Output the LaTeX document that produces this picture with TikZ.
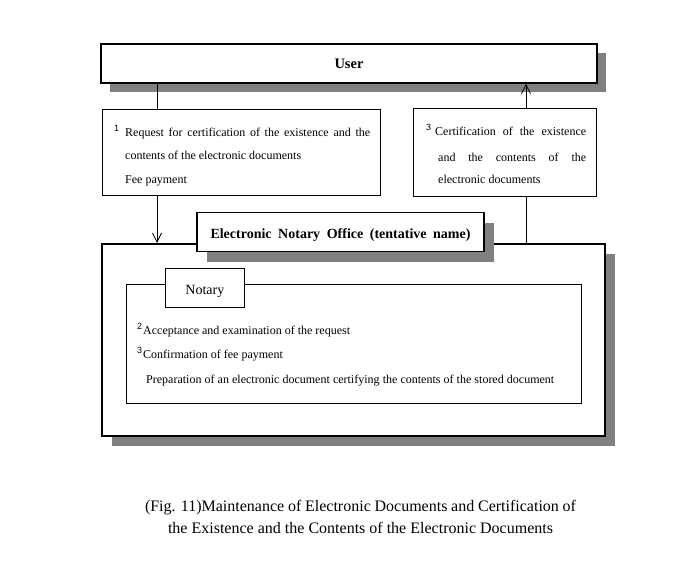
\documentclass[tikz,border=0pt]{standalone}
\usepackage{fontspec}
\setmainfont{Liberation Serif}
\setsansfont{Liberation Sans}
\usetikzlibrary{arrows.meta,shadows}
\definecolor{shade}{HTML}{808080}
\begin{document}
\begin{tikzpicture}[x=1pt,y=-1pt,
  thickbox/.style={draw, line width=1.6pt, fill=white, inner sep=0pt,
    general shadow={fill=shade, shadow xshift=#1, shadow yshift=-#1}},
  thickbox/.default=9pt,
  thinbox/.style={draw, line width=0.8pt, fill=white, inner sep=0pt},
  conn/.style={line width=0.8pt},
  arr/.style={conn, -{Straight Barb[length=9pt,width=9pt,line width=0.8pt]}},
  txt/.style={font=\fontsize{12}{14}\selectfont, inner sep=0pt, anchor=base west},
  num/.style={font=\sffamily\fontsize{9}{10}\selectfont, inner sep=0pt, anchor=base west},
  captxt/.style={font=\fontsize{16}{18}\selectfont, inner sep=0pt, anchor=base}
]
\useasboundingbox (0,0) rectangle (675,583);

% User
\node[thickbox=9pt, minimum width=496pt, minimum height=39pt, text height=11pt, text depth=0pt,
  font=\bfseries\fontsize{14.5}{16}\selectfont] (user) at (349,63.5) {User};

% Request box
\node[thinbox, anchor=north west, minimum width=278pt, minimum height=86pt] (req) at (102,109) {};
\node[num] (n1) at (114,132) {1};
\node[txt] (r1) at (125,137) {\makebox[245pt][s]{Request for certification of the existence and the}};
\node[txt] (r2) at (125,160) {contents of the electronic documents};
\node[txt] (r3) at (125,183) {Fee payment};

% Certification box
\node[thinbox, anchor=north west, minimum width=183pt, minimum height=88pt] (cert) at (413,108) {};
\node[num] (n3a) at (426,131) {3};
\node[txt] (c1) at (435,136) {\makebox[151pt][s]{Certification of the existence}};
\node[txt] (c2) at (438,161) {\makebox[148pt][s]{and the contents of the}};
\node[txt] (c3) at (438,184) {electronic documents};

% Office
\node[thickbox=10pt, anchor=north west, minimum width=503pt, minimum height=192pt] (office) at (101,243) {};
\node[thickbox=10pt, minimum width=287pt, minimum height=39pt, text height=12.4pt, text depth=0pt,
  font=\bfseries\fontsize{14}{16}\selectfont] (title) at (340.5,232)
  {\makebox[260pt][s]{Electronic Notary Office (tentative name)}};

% Notary
\node[thinbox, anchor=north west, minimum width=455pt, minimum height=119pt] (inner) at (126,284) {};
\node[thinbox, anchor=north west, minimum width=79pt, minimum height=39pt, text height=13pt, text depth=0pt,
  font=\fontsize{14}{16}\selectfont] (notary) at (165,268) {Notary};
\node[num] (n2) at (137,329) {2};
\node[txt] (i1) at (143,334) {Acceptance and examination of the request};
\node[num] (n3b) at (137,353) {3};
\node[txt] (i2) at (143,358) {Confirmation of fee payment};
\node[txt] (i3) at (146,383) {\makebox[408pt][s]{Preparation of an electronic document certifying the contents of the stored document}};

% Connectors
\coordinate (a1) at (157,0);
\coordinate (a2) at (526,0);
\draw[conn] (user.south -| a1) -- (req.north -| a1);
\draw[arr] (req.south -| a1) -- (office.north -| a1);
\draw[arr] (cert.north -| a2) -- (user.south -| a2);
\draw[conn] (office.north -| a2) -- (cert.south -| a2);

% Caption
\node[captxt] (cap1) at (360.5,511) {\makebox[431pt][s]{(Fig. 11)Maintenance of Electronic Documents and Certification of}};
\node[captxt] (cap2) at (360.5,533) {\makebox[385pt][s]{the Existence and the Contents of the Electronic Documents}};
\end{tikzpicture}
\end{document}
